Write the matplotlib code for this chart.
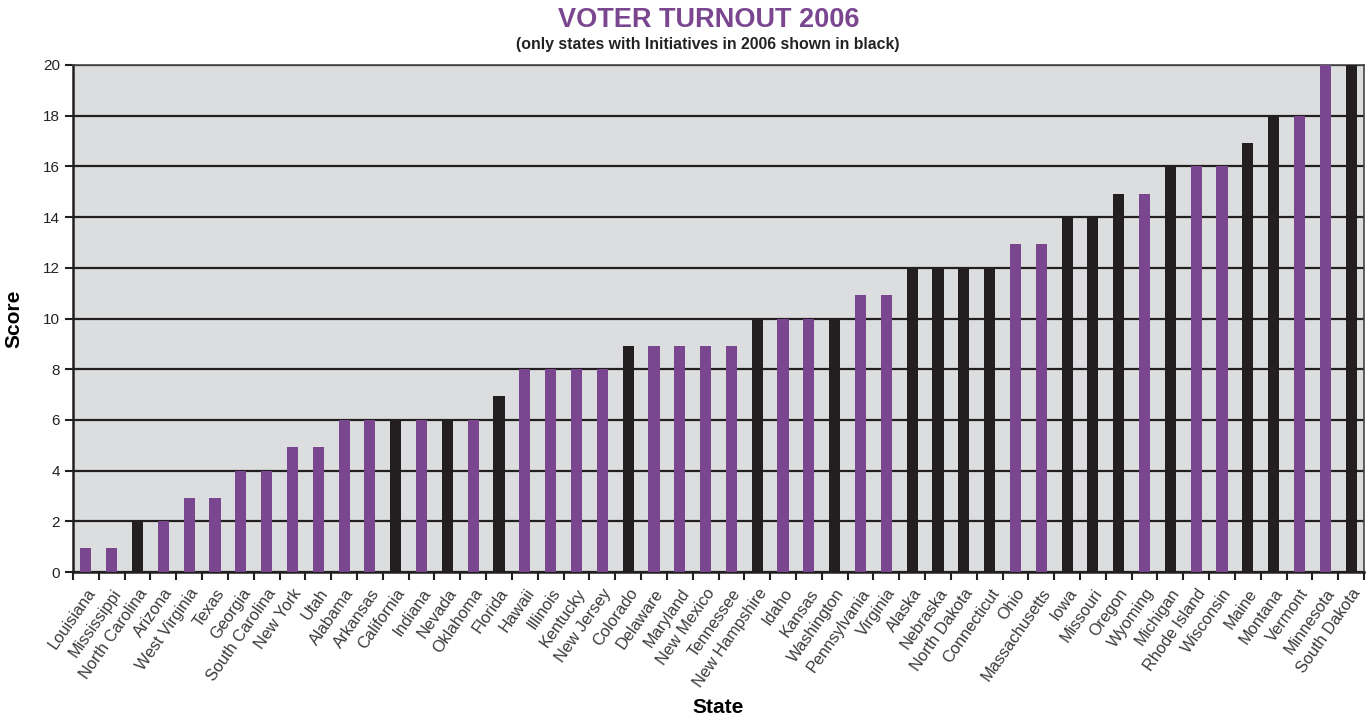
import numpy as np
import matplotlib.pyplot as plt

plt.rcParams['font.family'] = ['Liberation Sans', 'DejaVu Sans']

states = ["Louisiana", "Mississippi", "North Carolina", "Arizona", "West Virginia",
          "Texas", "Georgia", "South Carolina", "New York", "Utah", "Alabama",
          "Arkansas", "California", "Indiana", "Nevada", "Oklahoma", "Florida",
          "Hawaii", "Illinois", "Kentucky", "New Jersey", "Colorado", "Delaware",
          "Maryland", "New Mexico", "Tennessee", "New Hampshire", "Idaho", "Kansas",
          "Washington", "Pennsylvania", "Virginia", "Alaska", "Nebraska",
          "North Dakota", "Connecticut", "Ohio", "Massachusetts", "Iowa", "Missouri",
          "Oregon", "Wyoming", "Michigan", "Rhode Island", "Wisconsin", "Maine",
          "Montana", "Vermont", "Minnesota", "South Dakota"]
scores = [0.93, 0.93, 2, 2, 2.93, 2.93, 4, 4, 4.93, 4.93, 6, 6, 6, 6, 6, 6, 6.93,
          8, 8, 8, 8, 8.93, 8.93, 8.93, 8.93, 8.93, 10, 10, 10, 10, 10.93, 10.93,
          12, 12, 12, 12, 12.93, 12.93, 14, 14, 14.93, 14.93, 16, 16, 16, 16.93,
          18, 18, 20, 20]
# 1 = state had ballot initiatives in 2006
initiative = [0, 0, 1, 0, 0, 0, 0, 0, 0, 0, 0, 0, 1, 0, 1, 0, 1,
              0, 0, 0, 0, 1, 0, 0, 0, 0, 1, 0, 0, 1, 0, 0,
              1, 1, 1, 1, 0, 0, 1, 1, 1, 0, 1, 0, 0, 1,
              1, 0, 0, 1]

purple = '#7b4690'
black = '#231f20'
colors = [black if f else purple for f in initiative]

fig = plt.figure(figsize=(13.69, 7.17), dpi=100)
ax = fig.add_axes([73 / 1369, 1 - 572 / 717, (1364 - 73) / 1369, (572 - 65) / 717])
ax.set_facecolor('#dcdddf')

x = np.arange(len(states))
ax.bar(x, scores, width=0.43, color=colors, zorder=3)

ax.set_xlim(-0.5, len(states) - 0.5)
ax.set_ylim(0, 20)
ax.set_yticks(range(0, 21, 2))
ax.yaxis.grid(True, color='#231f20', linewidth=1.6, zorder=1)

ax.set_xticks(x)
ax.set_xticklabels(states, rotation=55, ha='right', rotation_mode='anchor',
                   fontsize=11.8, color='#3a3a3a')
ax.set_xticks(np.arange(-0.5, len(states), 1), minor=True)
ax.tick_params(axis='x', which='major', length=0, pad=10)
ax.tick_params(axis='x', which='minor', length=6, width=1.5, color=black)
ax.tick_params(axis='y', length=6, width=1.5, color=black, labelsize=11,
               labelcolor='#222222')

for side in ['left', 'bottom']:
    ax.spines[side].set_linewidth(1.8)
    ax.spines[side].set_color(black)
for side in ['top', 'right']:
    ax.spines[side].set_linewidth(1.2)
    ax.spines[side].set_color('#444444')

ax.set_ylabel('Score', fontsize=15, fontweight='bold', labelpad=14)
ax.set_xlabel('State', fontsize=15, fontweight='bold', labelpad=6)

fig.text(709 / 1369, 1 - 20 / 717, 'VOTER TURNOUT 2006', ha='center', va='center',
         fontsize=19.5, fontweight='bold', color=purple)
fig.text(708 / 1369, 1 - 44 / 717, '(only states with Initiatives in 2006 shown in black)',
         ha='center', va='center', fontsize=11.4, fontweight='bold', color='#222222')

fig.savefig('out.png', dpi=100)
